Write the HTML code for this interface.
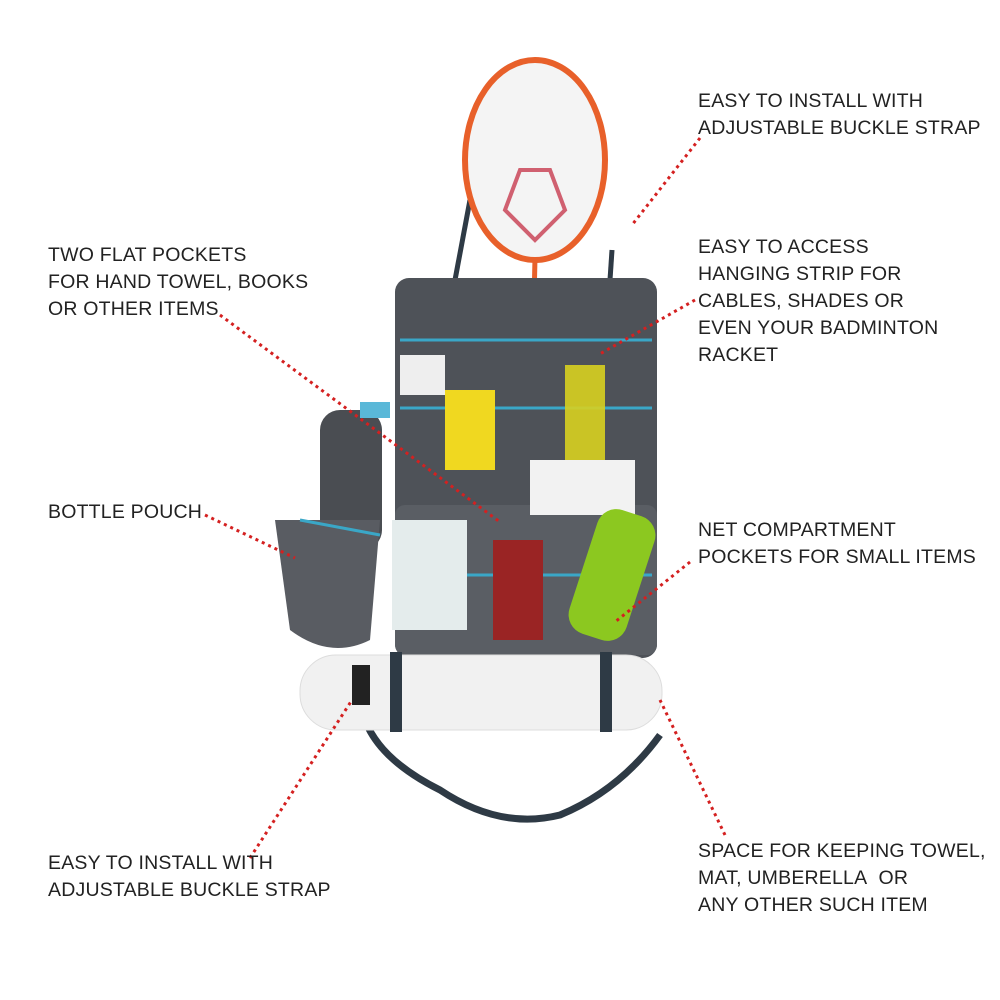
<!DOCTYPE html>
<html><head><meta charset="utf-8"><style>
html,body{margin:0;padding:0;background:#fff;width:1000px;height:1000px;overflow:hidden}
.t{position:absolute;font-family:"Liberation Sans",sans-serif;font-size:19.5px;color:#222;line-height:27px;letter-spacing:0.2px;white-space:nowrap}
svg{position:absolute;left:0;top:0}
</style></head><body>
<svg width="1000" height="1000" viewBox="0 0 1000 1000">
<path d="M365 720 Q380 760 440 790 Q500 830 560 815 Q620 790 660 735" fill="none" stroke="#2e3a45" stroke-width="7"/>
<path d="M455 280 L470 200" stroke="#2e3a45" stroke-width="5"/>
<path d="M610 280 L612 250" stroke="#2e3a45" stroke-width="5"/>
<ellipse cx="535" cy="160" rx="70" ry="100" fill="#f4f4f4" stroke="#e8602a" stroke-width="6"/>
<path d="M505 210 L520 170 L550 170 L565 210 L535 240 Z" fill="none" stroke="#d06070" stroke-width="4"/>
<line x1="535" y1="258" x2="528" y2="560" stroke="#e8602a" stroke-width="5"/>
<rect x="395" y="278" width="262" height="380" rx="14" fill="#4e5258"/>
<line x1="400" y1="340" x2="652" y2="340" stroke="#3aa7c7" stroke-width="3"/>
<line x1="400" y1="408" x2="652" y2="408" stroke="#3aa7c7" stroke-width="3"/>
<rect x="395" y="505" width="262" height="150" rx="10" fill="#5a5e64"/>
<line x1="400" y1="575" x2="652" y2="575" stroke="#3aa7c7" stroke-width="3"/>
<rect x="445" y="390" width="50" height="80" fill="#f0d820"/>
<rect x="565" y="365" width="40" height="100" fill="#d8d020" opacity="0.9"/>
<rect x="530" y="460" width="105" height="55" fill="#f2f2f2"/>
<rect x="392" y="520" width="75" height="110" fill="#e4ecec"/>
<rect x="493" y="540" width="50" height="100" fill="#9a2424"/>
<rect x="582" y="510" width="60" height="130" rx="20" fill="#8cc820" transform="rotate(18 612 575)"/>
<rect x="400" y="355" width="45" height="40" fill="#eee"/>
<rect x="320" y="410" width="62" height="140" rx="20" fill="#4a4d52"/>
<rect x="360" y="402" width="30" height="16" fill="#5ab8d8"/>
<path d="M275 520 L380 520 L370 640 Q330 660 290 630 Z" fill="#595c62"/>
<line x1="300" y1="520" x2="380" y2="535" stroke="#3aa7c7" stroke-width="3"/>
<rect x="300" y="655" width="362" height="75" rx="36" fill="#f1f1f1" stroke="#ddd"/>
<rect x="390" y="652" width="12" height="80" fill="#2e3a45"/>
<rect x="600" y="652" width="12" height="80" fill="#2e3a45"/>
<rect x="352" y="665" width="18" height="40" fill="#222"/>
<g stroke="#d42020" stroke-width="3" stroke-dasharray="3 4" fill="none">
<line x1="700" y1="138" x2="632" y2="225"/>
<line x1="695" y1="300" x2="598" y2="355"/>
<line x1="220" y1="315" x2="500" y2="522"/>
<line x1="205" y1="515" x2="295" y2="558"/>
<line x1="690" y1="562" x2="615" y2="622"/>
<line x1="250" y1="858" x2="352" y2="700"/>
<line x1="725" y1="835" x2="660" y2="700"/>
</g>
</svg>
<div class="t" style="left:698px;top:88px">EASY TO INSTALL WITH<br>ADJUSTABLE BUCKLE STRAP</div>
<div class="t" style="left:698px;top:234px">EASY TO ACCESS<br>HANGING STRIP FOR<br>CABLES, SHADES OR<br>EVEN YOUR BADMINTON<br>RACKET</div>
<div class="t" style="left:48px;top:242px">TWO FLAT POCKETS<br>FOR HAND TOWEL, BOOKS<br>OR OTHER ITEMS</div>
<div class="t" style="left:48px;top:499px">BOTTLE POUCH</div>
<div class="t" style="left:698px;top:517px">NET COMPARTMENT<br>POCKETS FOR SMALL ITEMS</div>
<div class="t" style="left:48px;top:850px">EASY TO INSTALL WITH<br>ADJUSTABLE BUCKLE STRAP</div>
<div class="t" style="left:698px;top:838px">SPACE FOR KEEPING TOWEL,<br>MAT, UMBERELLA&nbsp; OR<br>ANY OTHER SUCH ITEM</div>
</body></html>
